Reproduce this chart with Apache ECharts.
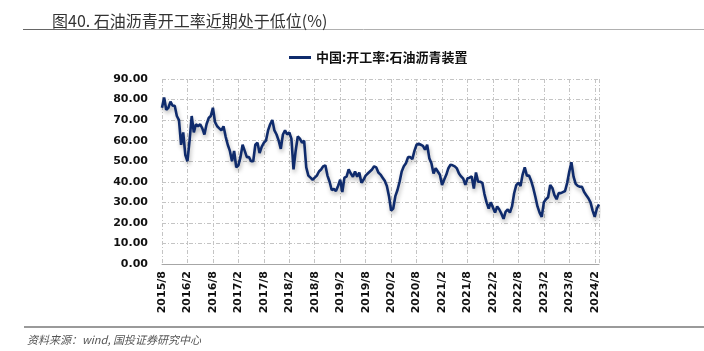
<!DOCTYPE html>
<html>
<head>
<meta charset="utf-8">
<script src="https://cdn.jsdelivr.net/npm/echarts@6/dist/echarts.min.js"></script>
<style>
html,body{margin:0;padding:0;background:#fff;}
#c{width:704px;height:351px;}
</style>
</head>
<body>
<div id="c"></div>
<script>
// Start of series: 2015/8, one value every half month
const startYear = 2015;
const startMonth = 8;
const stepMonths = 0.5;
const seriesName = '中国:开工率:石油沥青装置';
const titleText = '图40. 石油沥青开工率近期处于低位(%)';
const sourceText = '资料来源：wind, 国投证券研究中心';
const yTicks = [0, 10, 20, 30, 40, 50, 60, 70, 80, 90];

const rateValues = [
  76, 81, 75, 76, 79, 77, 77, 72, 70, 58,
  64, 53, 50, 60, 72, 64, 68, 67, 68, 66,
  63, 68, 71, 72, 76, 69, 67, 66, 65, 67,
  62, 58, 55, 50, 55, 47, 48, 52, 58, 55,
  52, 52, 50, 50, 58, 59, 54, 57, 59, 60,
  65, 68, 70, 65, 63, 60, 56, 63, 65, 63,
  64, 61, 46, 55, 62, 61, 59, 60, 47, 43,
  42, 41, 42, 43, 45, 46, 47.5, 48, 43, 40,
  36, 36.5, 35.5, 38, 41, 35, 42, 42.5, 46, 44,
  42.5, 45, 42.5, 44.5, 39.5, 41, 43, 44, 45, 46,
  47.5, 47, 44.5, 43.5, 42, 40.5, 38, 33, 26, 27,
  33, 36, 40, 45, 47.5, 49, 52, 52, 51, 55,
  58, 58.5, 58, 57.5, 55.6, 58, 51.5, 49, 44, 46.6,
  45, 43.4, 38.4, 41, 43.4, 46.6, 48.3, 48, 47.5, 46.5,
  44, 42.6, 41.5, 38.5, 41.7, 42, 42.6, 36.7, 44.5, 40,
  40, 39.5, 34, 30, 27, 30, 27.5, 25, 28, 26.5,
  24.5, 22, 25.5, 26.5, 25, 28, 34.4, 38.4, 39.5, 38,
  43.5, 47, 43, 43, 40.5, 37, 32.7, 28, 25, 22.9,
  30, 31.5, 32.5, 38.4, 37, 33.5, 31.5, 34.5, 34.5, 35,
  35.5, 39.5, 45, 49.5, 42.5, 39, 38, 37.6, 37.5, 35,
  33.5, 32, 30, 26, 23, 27, 29
];

const chartData = rateValues.map((v, i) => [i * stepMonths, v]);
const xMax = (rateValues.length - 1) * stepMonths;

function monthLabel(m) {
  if (Math.abs(m - Math.round(m)) > 1e-6 || Math.round(m) % 6 !== 0) return '';
  const total = startMonth - 1 + Math.round(m);
  const y = startYear + Math.floor(total / 12);
  const mo = (total % 12) + 1;
  return y + '/' + mo;
}

const chart = echarts.init(document.getElementById('c'), null, {renderer: 'canvas'});
const gridDash = [4, 2, 1, 2];
chart.setOption({
  animation: false,
  backgroundColor: '#ffffff',
  title: {
    text: titleText,
    left: 47, top: 8,
    textStyle: {fontFamily: 'Noto Sans CJK SC', fontSize: 16, fontWeight: 'normal', color: '#333'}
  },
  legend: {
    left: 284, top: 46,
    icon: 'rect', itemWidth: 22, itemHeight: 3, itemGap: 6,
    textStyle: {fontFamily: 'Noto Sans CJK SC', fontSize: 13, fontWeight: 'bold', color: '#111'},
    data: [seriesName]
  },
  grid: {left: 162, right: 704 - 599, top: 79, bottom: 351 - 264, containLabel: false},
  xAxis: {
    type: 'value',
    min: 0, max: xMax, interval: 6,
    axisLine: {show: true, lineStyle: {color: '#a6a6a6', width: 1}},
    axisTick: {show: false},
    axisLabel: {
      rotate: 90, margin: 7,
      fontFamily: 'DejaVu Sans', fontSize: 11, fontWeight: 'bold', color: '#111',
      formatter: monthLabel
    },
    splitLine: {show: true, lineStyle: {color: '#c4c4c4', type: gridDash, width: 1}}
  },
  yAxis: {
    type: 'value',
    min: yTicks[0], max: yTicks[yTicks.length - 1], interval: yTicks[1] - yTicks[0],
    axisLine: {show: false},
    axisTick: {show: false},
    axisLabel: {
      margin: 14,
      fontFamily: 'DejaVu Sans', fontSize: 11, fontWeight: 'bold', color: '#111',
      formatter: v => v.toFixed(2)
    },
    splitLine: {show: true, lineStyle: {color: '#c4c4c4', type: gridDash, width: 1}}
  },
  series: [{
    name: seriesName,
    type: 'line',
    data: chartData,
    showSymbol: false,
    symbol: 'none',
    lineStyle: {
      color: '#0f2b6c', width: 2.6,
      shadowColor: 'rgba(0,0,0,0.28)', shadowBlur: 4, shadowOffsetX: 1, shadowOffsetY: 3
    },
    itemStyle: {color: '#0f2b6c'}
  }],
  graphic: [
    {type: 'line', shape: {x1: 23, y1: 29.5, x2: 704, y2: 29.5}, style: {stroke: '#b0b0b0', lineWidth: 1}},
    {type: 'line', shape: {x1: 23, y1: 29.5, x2: 113, y2: 29.5}, style: {stroke: '#666', lineWidth: 1}},
    {type: 'line', shape: {x1: 24, y1: 327, x2: 704, y2: 327}, style: {stroke: '#9a9a9a', lineWidth: 2}},
    {type: 'text', left: 27, top: 334, style: {text: sourceText, fontFamily: 'Noto Sans CJK SC', fontSize: 11, fontStyle: 'italic', fill: '#555'}}
  ]
});
</script>
</body>
</html>
